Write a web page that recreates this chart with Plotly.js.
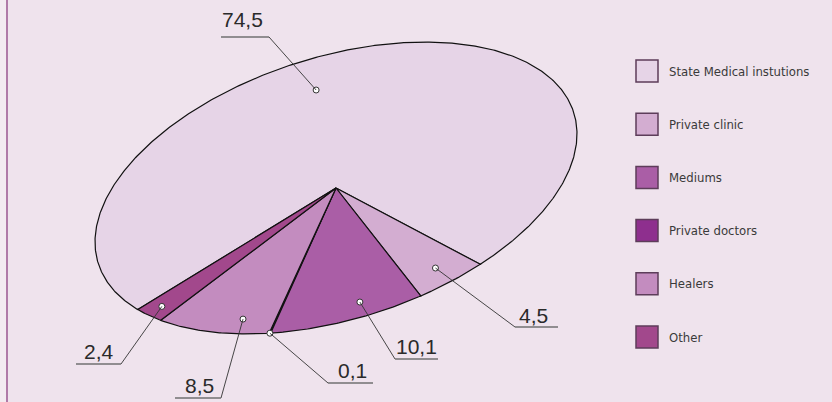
<!DOCTYPE html>
<html>
<head>
<meta charset="utf-8">
<script src="https://cdn.plot.ly/plotly-3.0.1.min.js"></script>
<style>html,body{margin:0;padding:0;background:#efe3ed;}#chart{width:832px;height:402px;}</style>
</head>
<body>
<div id="chart"></div>
<script>
// ---- data ----
const categories = ['State Medical instutions', 'Private clinic', 'Mediums', 'Private doctors', 'Healers', 'Other'];
const values = [74.5, 4.5, 10.1, 0.1, 8.5, 2.4];
const valueLabels = ['74,5', '4,5', '10,1', '0,1', '8,5', '2,4'];
const colors = ['#e6d4e7', '#d3add1', '#aa5ea6', '#8e2f8e', '#c38cbf', '#a2488c'];

// ---- layout / geometry (tilted pie drawn as an affine image of a circle) ----
const CX = 336, CY = 188;          // pie centre in chart units
const AX = 241, AY = -54, BY = 135.6; // tilt matrix
const START = 145.3;               // start angle of first slice (deg)
const dotR = [0.76, 0.86, 0.886, 1.0, 0.9, 0.93];
const dotShift = [-15.5, 0, -4, 0, -6, 0];
// label boxes: text centre, underline span and y
const lblText = [[242.5, 19.5], [533.5, 315.5], [416, 346.5], [352, 370.5], [199, 385], [99, 351.5]];
const lblLine = [[221, 269, 37, 269], [515, 558, 327, 515], [395, 438, 359, 395], [328, 373, 383, 328], [175, 221, 398, 221], [76, 121, 364, 121]];

function pt(tDeg, r) {
  const t = tDeg * Math.PI / 180;
  return [CX + r * AX * Math.cos(t), CY + r * (AY * Math.cos(t) + BY * Math.sin(t))];
}

const total = values.reduce((a, b) => a + b, 0);
const traces = [];
const dotsX = [], dotsY = [];
const shapes = [];
const annotations = [];
let cum = 0;
values.forEach((v, i) => {
  const t0 = START + cum / total * 360;
  const t1 = t0 + v / total * 360;
  cum += v;
  const n = Math.max(2, Math.ceil((t1 - t0) / 0.5));
  const xs = [CX], ys = [CY];
  for (let k = 0; k <= n; k++) {
    const p = pt(t0 + (t1 - t0) * k / n, 1);
    xs.push(p[0]); ys.push(p[1]);
  }
  xs.push(CX); ys.push(CY);
  traces.push({
    type: 'scatter', mode: 'lines', x: xs, y: ys, fill: 'toself',
    fillcolor: colors[i], line: {color: '#111111', width: 1.2},
    name: categories[i], hoverinfo: 'skip', showlegend: false
  });
  const d = pt((t0 + t1) / 2 + dotShift[i], dotR[i]);
  dotsX.push(d[0]); dotsY.push(d[1]);
  const L = lblLine[i];
  shapes.push({type: 'line', xref: 'x', yref: 'y', x0: d[0], y0: d[1], x1: L[3], y1: L[2], line: {color: '#333333', width: 0.9}, layer: 'above'});
  shapes.push({type: 'line', xref: 'x', yref: 'y', x0: L[0], y0: L[2], x1: L[1], y1: L[2], line: {color: '#707070', width: 1.3}, layer: 'above'});
  annotations.push({xref: 'x', yref: 'y', x: lblText[i][0], y: lblText[i][1], text: valueLabels[i], showarrow: false,
    xanchor: 'center', yanchor: 'middle', font: {family: 'Liberation Sans, Arial, sans-serif', size: 21, color: '#2a2a2a'}});
});
traces.push({type: 'scatter', mode: 'markers', x: dotsX, y: dotsY, hoverinfo: 'skip', showlegend: false,
  marker: {size: 6, color: '#ffffff', line: {color: '#333333', width: 1}}, cliponaxis: false});

// legend (drawn as shapes + text)
categories.forEach((c, i) => {
  const yc = 71 + i * 53.2;
  shapes.push({type: 'rect', xref: 'x', yref: 'y', x0: 636, x1: 658, y0: yc - 11, y1: yc + 11,
    fillcolor: colors[i], line: {color: '#5d3d5a', width: 1.5}});
  annotations.push({xref: 'x', yref: 'y', x: 667, y: yc, text: c, showarrow: false, xanchor: 'left', yanchor: 'middle',
    font: {family: 'DejaVu Sans Condensed, Liberation Sans Narrow, sans-serif', size: 13, color: '#3a3a3a'}});
});

// frame: left strip and border
shapes.unshift({type: 'rect', xref: 'x', yref: 'y', x0: 0, x1: 6, y0: 0, y1: 402, fillcolor: '#f3ebf1', line: {width: 0}, layer: 'below'});
shapes.push({type: 'line', xref: 'x', yref: 'y', x0: 7, x1: 7, y0: 0, y1: 402, line: {color: '#b07aa8', width: 2}});

const layout = {
  width: 832, height: 402,
  margin: {l: 0, r: 0, t: 0, b: 0, pad: 0},
  paper_bgcolor: '#efe3ed', plot_bgcolor: 'rgba(0,0,0,0)',
  xaxis: {range: [0, 832], visible: false, fixedrange: true},
  yaxis: {range: [402, 0], visible: false, fixedrange: true},
  showlegend: false,
  shapes: shapes,
  annotations: annotations
};
Plotly.newPlot('chart', traces, layout, {staticPlot: true, displayModeBar: false});
</script>
</body>
</html>
